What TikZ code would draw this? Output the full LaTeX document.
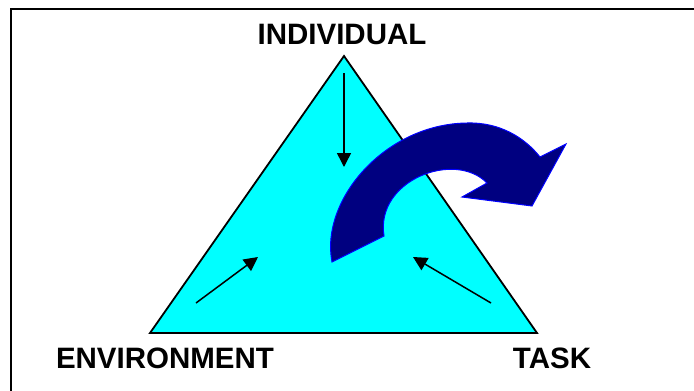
\documentclass[tikz,border=0pt]{standalone}
\usepackage{fontspec}
\setmainfont{Liberation Sans}
\usetikzlibrary{arrows.meta}
\definecolor{tricyan}{RGB}{0,255,255}
\definecolor{navyfill}{RGB}{0,0,128}
\definecolor{edgeblue}{RGB}{0,0,255}
\begin{document}
\begin{tikzpicture}[x=1pt,y=-1pt,
  lbl/.style={font=\fontsize{29.5}{31}\selectfont\bfseries, anchor=base, inner sep=0pt},
  tri/.style={fill=tricyan, draw=black, line width=1.8pt, line join=miter},
  infl/.style={draw=black, line width=1.5pt, -{Triangle[length=14pt,width=14pt]}},
  bigarrow/.style={fill=navyfill, draw=edgeblue, line width=1pt, line join=miter}]
\useasboundingbox (0,0) rectangle (694,391);
\begin{scope}
\clip (0,0) rectangle (694,391);
\draw[line width=2.2pt] (11,400) -- (11,9) -- (700,9);
\end{scope}
% triangle
\coordinate (apex) at (344,56);
\coordinate (bl) at (150,333);
\coordinate (br) at (537,333);
\draw[tri] (apex) -- (bl) -- (br) -- cycle;
% labels
\node[lbl] (ind) at (342,44) {INDIVIDUAL};
\node[lbl] (env) at (165,368) {ENVIRONMENT};
\node[lbl] (task) at (552,368) {TASK};
% influence arrows
\coordinate (t1) at (344,73);  \coordinate (t2) at (344,167);
\coordinate (l1) at (196,303); \coordinate (l2) at (258,257);
\coordinate (r1) at (491,303); \coordinate (r2) at (413,257);
\draw[infl] (t1) -- (t2);
\draw[infl] (l1) -- (l2);
\draw[infl] (r1) -- (r2);
% big curved arrow
\draw[bigarrow] (332,262)
  .. controls (320,200) and (385,124) .. (467,123)
  .. controls (500,122) and (525,138) .. (540,157)
  -- (566,144) -- (532,206) -- (462,197) -- (487,183)
  .. controls (455,150) and (375,180) .. (384,236)
  -- cycle;
\end{tikzpicture}
\end{document}
